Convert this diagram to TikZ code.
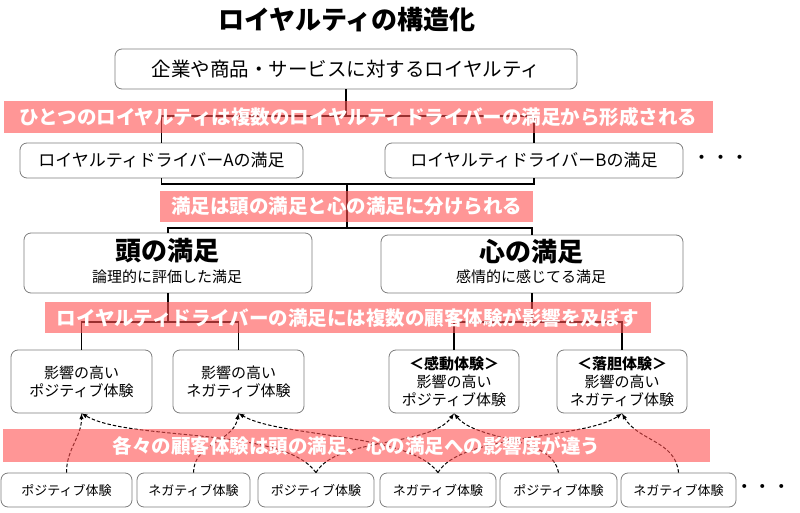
\documentclass[tikz,border=0pt]{standalone}
\usepackage{fontspec}
\setmainfont{Noto Sans CJK JP}
\usepackage{tikz}
\usetikzlibrary{arrows}
\definecolor{bandpink}{RGB}{255,80,80}
\definecolor{boxgray}{RGB}{125,125,125}

\begin{document}
\begin{tikzpicture}[x=1pt,y=-1pt,
  box/.style={draw=boxgray,line width=0.8pt,rounded corners=7pt,fill=white,inner sep=0pt},
  band/.style={fill=bandpink,fill opacity=0.6,text opacity=1,text=white,inner sep=0pt,
    font=\fontsize{19.5}{22}\selectfont\bfseries},
  link/.style={line width=1.6pt},
  infl/.style={-latex,line width=1pt,dash pattern=on 3.5pt off 2pt,looseness=0.6},
  midtext/.style={align=center,font=\fontsize{15}{18}\selectfont},
  bottext/.style={font=\fontsize{13}{15}\selectfont}]
  \useasboundingbox (0,0) rectangle (800,513);

   \draw (347,20) node[font=\fontsize{26}{28}\selectfont\bfseries] (title) {ロイヤルティの構造化};
   \draw (346,69) node[box,minimum width=462pt,minimum height=40pt,font=\fontsize{19.5}{22}\selectfont] (loyal) {企業や商品・サービスに対するロイヤルティ};

   \draw (161.5,160.5) node[box,minimum width=283pt,minimum height=35pt,font=\fontsize{17}{19}\selectfont] (drvA) {ロイヤルティドライバーAの満足};
   \draw (534,160.5) node[box,minimum width=298pt,minimum height=35pt,font=\fontsize{17}{19}\selectfont] (drvB) {ロイヤルティドライバーBの満足};
   \draw (721,160) node[font=\fontsize{19}{20}\selectfont] (drvMore) {・・・};

   \draw (168,263) node[box,minimum width=288pt,minimum height=60pt] (head) {};
   \draw (167,251) node[font=\fontsize{26}{28}\selectfont\bfseries] (headT) {頭の満足};
   \draw (167,277) node[font=\fontsize{15}{18}\selectfont] (headS) {論理的に評価した満足};
   \draw (532,264) node[box,minimum width=302pt,minimum height=58pt] (heart) {};
   \draw (531,252) node[font=\fontsize{26}{28}\selectfont\bfseries] (heartT) {心の満足};
   \draw (531,277) node[font=\fontsize{15}{18}\selectfont] (heartS) {感情的に感じてる満足};

   \draw (81.5,381.5) node[box,midtext,minimum width=141pt,minimum height=63pt] (posH) {影響の高い\\ポジティブ体験};
   \draw (238.5,381.5) node[box,midtext,minimum width=131pt,minimum height=63pt] (negH) {影響の高い\\ネガティブ体験};
   \draw (454,381.5) node[box,midtext,minimum width=130pt,minimum height=63pt] (posK) {{\bfseries ＜感動体験＞}\\影響の高い\\ポジティブ体験};
   \draw (622,381.5) node[box,midtext,minimum width=130pt,minimum height=63pt] (negK) {{\bfseries ＜落胆体験＞}\\影響の高い\\ネガティブ体験};

   \draw (66.5,490) node[box,bottext,minimum width=131pt,minimum height=34pt] (exp1) {ポジティブ体験};
   \draw (193.5,490) node[box,bottext,minimum width=113pt,minimum height=34pt] (exp2) {ネガティブ体験};
   \draw (316,490) node[box,bottext,minimum width=116pt,minimum height=34pt] (exp3) {ポジティブ体験};
   \draw (438,490) node[box,bottext,minimum width=116pt,minimum height=34pt] (exp4) {ネガティブ体験};
   \draw (558.5,490) node[box,bottext,minimum width=117pt,minimum height=34pt] (exp5) {ポジティブ体験};
   \draw (678.5,490) node[box,bottext,minimum width=115pt,minimum height=34pt] (exp6) {ネガティブ体験};
   \draw (763,489) node[font=\fontsize{18.5}{20}\selectfont] (expMore) {・・・};

   \coordinate (j1) at (346,116);
   \coordinate (j2) at (347,184);
   \coordinate (j3) at (347,228);
   \coordinate (j4) at (168,322);
   \coordinate (j5) at (532,322);
   \draw[link] (loyal.south) -- (j1) -| (drvA.north);
   \draw[link] (j1) -| (drvB.north);
   \draw[link] (drvA.south) |- (j2) -| (drvB.south);
   \draw[link] (j2) -- (j3) -| (head.north);
   \draw[link] (j3) -| (heart.north);
   \draw[link] (head.south) -- (j4) -| (posH.north);
   \draw[link] (j4) -| (negH.north);
   \draw[link] (heart.south) -- (j5) -| (posK.north);
   \draw[link] (j5) -| (negK.north);

      \path[infl] (exp1.north) edge[out=90,in=-90,looseness=1] (posH.south);
      \path[infl] (exp3.north) edge[out=125,in=-30] (posH.south);
      \path[infl] (exp3.north) edge[out=60,in=-125,looseness=0.7] (posK.south);
      \path[infl] (exp2.north) edge[out=90,in=-100,looseness=1] (negH.south);
      \path[infl] (exp4.north) edge[out=125,in=-30] (negH.south);
      \path[infl] (exp4.north) edge[out=60,in=-145] (negK.south);
      \path[infl] (exp5.north) edge[out=100,in=-50,looseness=0.8] (posK.south);
      \path[infl] (exp6.north) edge[out=95,in=-60,looseness=1] (negK.south);

   \draw (358.5,117) node[band,minimum width=709pt,minimum height=32pt] (band1) {ひとつのロイヤルティは複数のロイヤルティドライバーの満足から形成される};
   \draw (346.5,206.5) node[band,minimum width=373pt,minimum height=31pt] (band2) {満足は頭の満足と心の満足に分けられる};
   \draw (348,317.5) node[band,minimum width=606pt,minimum height=31pt] (band3) {ロイヤルティドライバーの満足には複数の顧客体験が影響を及ぼす};
   \draw (356.5,445.5) node[band,minimum width=707pt,minimum height=33pt] (band4) {各々の顧客体験は頭の満足、心の満足への影響度が違う};
\end{tikzpicture}
\end{document}
